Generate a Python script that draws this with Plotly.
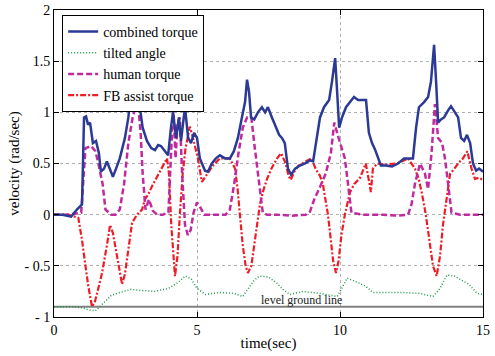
import plotly.graph_objects as go

# ---------------- data ----------------
combined_t = [0, 0.3, 0.6, 0.8, 0.98, 1.05, 1.12, 1.19, 1.26, 1.36, 1.47, 1.57, 1.64, 1.75, 1.85, 1.96, 2.06, 2.17,
              2.3, 2.48, 2.6, 2.7, 2.8, 2.9, 3.0, 3.1, 3.25, 3.4, 3.53, 3.64, 3.74, 3.88, 3.99, 4.09, 4.16, 4.27,
              4.37, 4.44, 4.58, 4.69, 4.79, 4.9, 5.0, 5.1, 5.28, 5.38, 5.52, 5.66, 5.8, 5.98, 6.15, 6.29, 6.43,
              6.57, 6.68, 6.75, 6.82, 6.89, 7.0, 7.13, 7.27, 7.38, 7.48, 7.62, 7.76, 7.87, 7.97, 8.07, 8.18, 8.29,
              8.43, 8.6, 8.78, 8.95, 9.06, 9.16, 9.3, 9.44, 9.62, 9.72, 9.83, 9.9, 9.97, 10.07, 10.21, 10.35,
              10.49, 10.63, 10.77, 10.91, 11.01, 11.12, 11.22, 11.33, 11.43, 11.6, 11.82, 12.03, 12.24, 12.41,
              12.55, 12.66, 12.76, 12.94, 13.08, 13.18, 13.29, 13.36, 13.43, 13.53, 13.64, 13.78, 13.88, 14.02,
              14.13, 14.23, 14.34, 14.44, 14.55, 14.65, 14.76, 14.86, 15.0]
combined_v = [0.0, 0.0, -0.02, 0.05, 0.1, 0.95, 0.96, 0.88, 0.9, 0.7, 0.72, 0.6, 0.42, 0.45, 0.52, 0.45, 0.37, 0.45,
              0.55, 0.75, 0.95, 1.2, 1.3, 1.25, 1.03, 0.85, 0.72, 0.65, 0.63, 0.68, 0.67, 0.62, 0.58, 0.85, 1.0, 0.75,
              0.95, 0.72, 1.05, 0.75, 0.7, 0.8, 0.75, 0.55, 0.43, 0.42, 0.5, 0.55, 0.58, 0.55, 0.55, 0.62, 0.75,
              0.95, 1.1, 1.32, 1.2, 0.95, 0.93, 1.0, 1.05, 1.0, 1.05, 0.95, 0.85, 0.78, 0.75, 0.7, 0.45, 0.39,
              0.45, 0.48, 0.5, 0.53, 0.52, 0.7, 0.95, 1.05, 1.12, 1.3, 1.53, 1.2, 0.85, 0.95, 1.05, 1.1,
              1.15, 1.12, 1.12, 1.12, 0.8, 0.7, 0.64, 0.55, 0.48, 0.48, 0.47, 0.5, 0.55, 0.55,
              0.55, 0.85, 1.05, 1.1, 1.15, 1.3, 1.66, 1.3, 0.9, 0.93, 0.95, 1.02, 1.06, 1.0,
              0.95, 0.75, 0.72, 0.78, 0.7, 0.5, 0.43, 0.45, 0.42]

tilted_t = [0, 0.6, 1.0, 1.2, 1.45, 1.6, 1.8, 2.0, 2.3, 2.7, 3.0, 3.5, 4.0, 4.3, 4.6, 4.8, 5.0, 5.3, 5.8, 6.3,
            6.6, 6.8, 7.0, 7.2, 7.5, 7.8, 8.0, 8.25, 8.7, 9.3, 9.9, 10.1, 10.25, 10.6, 10.9, 11.15, 11.6, 12.2,
            12.8, 13.25, 13.5, 13.74, 14.0, 14.2, 14.5, 14.8, 15.0]
tilted_v = [-0.9, -0.9, -0.91, -0.93, -0.94, -0.9, -0.84, -0.79, -0.76, -0.73, -0.74, -0.75, -0.72, -0.67, -0.6,
            -0.63, -0.72, -0.78, -0.76, -0.77, -0.8, -0.72, -0.64, -0.6, -0.61, -0.67, -0.73, -0.78, -0.75, -0.77,
            -0.8, -0.7, -0.62, -0.66, -0.7, -0.76, -0.76, -0.76, -0.77, -0.8, -0.72, -0.59, -0.6, -0.63, -0.68,
            -0.77, -0.78]

human_t = [0, 0.5, 0.95, 1.02, 1.1, 1.3, 1.45, 1.55, 1.7, 1.8, 2.0, 2.15, 2.3, 2.45, 2.6, 2.75, 2.85, 2.95, 3.03,
           3.1, 3.2, 3.32, 3.45, 3.6, 3.8, 4.0, 4.1, 4.17, 4.25, 4.32, 4.4, 4.48, 4.58, 4.68, 4.78, 4.88, 5.0,
           5.1, 5.25, 5.6, 6.0, 6.15, 6.3, 6.45, 6.6, 6.75, 6.9, 7.0, 7.2, 7.3, 7.45, 7.8, 8.3, 8.8, 8.95,
           9.1, 9.3, 9.5, 9.68, 9.8, 9.95, 10.1, 10.17, 10.28, 10.4, 10.8, 11.5, 12.0, 12.38, 12.5, 12.62,
           12.8, 12.97, 13.08, 13.2, 13.32, 13.43, 13.57, 13.67, 13.78, 13.9, 14.2, 14.6, 15.0]
human_v = [0.0, 0.0, 0.02, 0.3, 0.65, 0.67, 0.62, 0.5, 0.3, 0.05, 0.0, 0.0, 0.05, 0.3, 0.7, 0.95, 1.05, 1.05, 0.8,
           0.4, 0.05, 0.15, 0.04, 0.0, 0.0, 0.02, 0.7, 1.07, 0.55, 0.9, 0.95, 0.4, -0.1, -0.2, -0.15, 0.02, 0.12,
           0.08, 0.0, 0.0, 0.0, 0.05, 0.3, 0.6, 0.85, 0.95, 0.95, 0.7, 0.27, 0.02, 0.0, 0.0, -0.01, 0.0, 0.03,
           0.15, 0.27, 0.4, 0.6, 0.9, 0.75, 0.62, 0.55, 0.3, 0.02, 0.0, 0.0, -0.01, 0.0, 0.1, 0.3,
           0.5, 0.4, 0.25, 0.6, 1.08, 0.75, 0.7, 0.55, 0.3, 0.02, 0.0, 0.0, 0.0]

assist_t = [0, 0.5, 0.85, 0.98, 1.1, 1.2, 1.33, 1.43, 1.55, 1.68, 1.85, 1.96, 2.06, 2.2, 2.38, 2.48, 2.6, 2.73,
            2.9, 3.08, 3.18, 3.3, 3.43, 3.6, 3.78, 3.95, 4.02, 4.1, 4.23, 4.32, 4.4, 4.5, 4.6, 4.75, 4.86, 5.03,
            5.17, 5.35, 5.56, 5.8, 6.15, 6.33, 6.42, 6.5, 6.6, 6.7, 6.78, 6.9, 7.0, 7.1, 7.2, 7.3, 7.45, 7.6,
            7.8, 7.94, 8.1, 8.2, 8.28, 8.4, 8.55, 8.8, 9.0, 9.16, 9.3, 9.4, 9.5, 9.58, 9.68, 9.76, 9.86, 9.95,
            10.05, 10.17, 10.35, 10.5, 10.7, 10.9, 11.0, 11.08, 11.15, 11.3, 11.6, 12.0, 12.38, 12.62, 12.75,
            12.87, 13.0, 13.1, 13.25, 13.38, 13.5, 13.6, 13.74, 13.85, 14.0, 14.13, 14.3, 14.45, 14.6, 14.72,
            14.85, 15.0]
assist_v = [0.0, 0.0, -0.03, -0.25, -0.5, -0.7, -0.9, -0.85, -0.72, -0.57, -0.3, -0.1, -0.18, -0.4, -0.68, -0.58,
            -0.35, -0.08, 0.0, 0.05, 0.15, 0.2, 0.28, 0.37, 0.47, 0.55, 0.4, -0.1, -0.6, -0.4, 0.0, 0.4, 0.65,
            0.86, 0.75, 0.55, 0.32, 0.4, 0.48, 0.55, 0.55, 0.45, 0.25, 0.0, -0.3, -0.5, -0.57, -0.5, -0.3, -0.1,
            0.1, 0.22, 0.35, 0.45, 0.55, 0.6, 0.5, 0.38, 0.34, 0.42, 0.48, 0.52, 0.55, 0.44, 0.38, 0.3, 0.15,
            0.0, -0.25, -0.45, -0.57, -0.45, -0.2, 0.0, 0.22, 0.3, 0.36, 0.5, 0.35, 0.22, 0.45, 0.5, 0.49, 0.5,
            0.55, 0.45, 0.35, 0.2, 0.0, -0.2, -0.5, -0.6, -0.4, -0.1, 0.2, 0.4, 0.45, 0.5, 0.55, 0.62, 0.45,
            0.35, 0.36, 0.34]

ground_level = -0.9
ground_t = [0, 15]

x_ticks = [0, 5, 10, 15]
y_ticks = [-1, -0.5, 0, 0.5, 1, 1.5, 2]
y_tick_text = ["- 1", "- 0.5", "0", "0.5", "1", "1.5", "2"]

# ---------------- figure ----------------
FONT = "Liberation Serif, Times New Roman, serif"
fig = go.Figure()

fig.add_trace(go.Scatter(x=ground_t, y=[ground_level] * len(ground_t), mode="lines",
                         line=dict(color="#808080", width=2), showlegend=False, hoverinfo="skip"))
fig.add_trace(go.Scatter(x=tilted_t, y=tilted_v, mode="lines", name="tilted angle", legendrank=2,
                         line=dict(color="#1a9a4a", width=1.5, dash="1px,2px")))
fig.add_trace(go.Scatter(x=assist_t, y=assist_v, mode="lines", name="FB assist torque", legendrank=4,
                         line=dict(color="#ee1c25", width=2.2, dash="6px,2px,2px,2px")))
fig.add_trace(go.Scatter(x=human_t, y=human_v, mode="lines", name="human torque", legendrank=3,
                         line=dict(color="#c02a9e", width=2.5, dash="6px,3px")))
fig.add_trace(go.Scatter(x=combined_t, y=combined_v, mode="lines", name="combined torque", legendrank=1,
                         line=dict(color="#2b3a95", width=2.5)))

fig.add_annotation(x=8.65, y=-0.83, text="level ground line", showarrow=False,
                   font=dict(family=FONT, size=12, color="#222"))

axis_common = dict(showline=True, linecolor="black", linewidth=1, mirror="ticks",
                   ticks="inside", ticklen=5, tickcolor="black",
                   showgrid=True, gridcolor="#b0b0b0", griddash="dot", gridwidth=1,
                   zeroline=False, tickfont=dict(family=FONT, size=14, color="black"))

fig.update_xaxes(range=[0, 15], tickvals=x_ticks, ticktext=[str(v) for v in x_ticks],
                 title=dict(text="time(sec)", font=dict(family=FONT, size=15, color="black"), standoff=0),
                 automargin=False, **axis_common)
fig.update_yaxes(range=[-1, 2], tickvals=y_ticks, ticktext=y_tick_text,
                 title=dict(text="velocity (rad/sec)", font=dict(family=FONT, size=15, color="black"), standoff=1),
                 automargin=False, **axis_common)

fig.update_layout(
    width=495, height=356,
    margin=dict(l=54, r=12, t=10, b=39),
    paper_bgcolor="white", plot_bgcolor="white",
    font=dict(family=FONT, color="black"),
    legend=dict(x=0.019, y=0.984, xanchor="left", yanchor="top",
                bgcolor="white", bordercolor="black", borderwidth=1,
                font=dict(family=FONT, size=14, color="black"),
                traceorder="normal", itemwidth=30, tracegroupgap=0),
)

fig.write_html("out.html")
